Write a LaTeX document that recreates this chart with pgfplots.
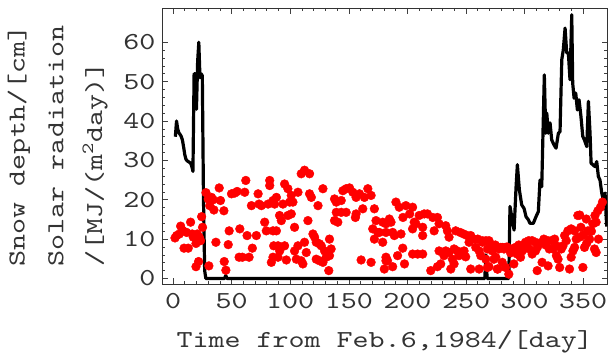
\documentclass[border=0pt]{standalone}
\usepackage{fontspec}
\usepackage{pgfplots}
\usepackage{pgfplotstable}
\pgfplotsset{compat=1.18}
\newfontfamily\cour[FakeStretch=1.25]{lmmono10-regular.otf}
\newcommand{\cf}{\cour\fontsize{24.5}{39}\selectfont}

\pgfplotstableread{
x y
2 36
3 40
4 38
5 37
6 36.6
7 36.1
8 35.2
9 33.5
10 31.5
11 30.3
12 29.9
13 29.7
14 29.5
15 29.3
16 28.5
17 27.2
18 52
19 52
20 43
21 55
22 60
23 51
24 52
25 51.5
26 20
27 2
28 0
44 0
45 0.8
46 0
266 0
267 6
268 0
286.5 0
287.5 18.3
289 15.7
291 12.3
292.7 23.3
293.8 28.9
295.5 22.5
297.5 18.7
299.5 17.8
301.2 15.7
303.2 14.9
304.6 14
307.4 14
309.7 15.7
311.7 17
313.1 25
314.6 23.3
316.8 51.7
318 36.9
318.9 42
320.2 36.9
321.7 39.5
323.1 35.2
325.1 33.9
326.8 33.1
328.8 36.9
330.2 37.3
331.7 55.6
333 58.1
334.5 63.6
335.9 57.3
337.3 57.3
338.7 50.5
340.2 67
341 49.6
342.2 45.8
343.6 47.1
345 42.8
346.4 45.4
347.9 41.6
349.6 36.1
351 35.2
353 33.5
354.4 45
355.8 36.9
356.7 29.3
358.1 28.9
360.1 28.4
361.5 29.7
362.9 25.9
364.3 25
365.8 21.7
367.1 20
368.6 21.7
370 13.2
}\snow

\pgfplotstableread{
x y
1.7 10.3
3.1 10.9
5.4 11.3
6.5 13.3
8.2 12.2
9.4 7.7
11.6 11.7
13.0 7.7
15.0 14.3
16.4 11.3
17.3 10.5
19.6 8.9
20.7 11.3
22.4 10.5
23.5 9.6
24.4 15.7
25.2 13.0
19.6 3.0
21.8 4.3
30.6 3.2
28.1 21.8
30 20.2
32.9 20.6
34.3 20
31.3 18.5
34.9 17.4
36.6 9.2
39.4 23
40.5 19.8
43.4 17.2
45.1 2.1
43.7 4.3
47.1 8.6
47.9 12.1
49.9 21.5
52.7 21.7
54.7 22.1
57.0 12.6
56.4 5.4
59.2 5.4
61.2 21.9
62.1 24.9
63.2 10.9
64.9 5.4
66.9 18.5
67.7 7.7
71.1 10.9
72.6 21.5
73.4 18.9
75.4 18.5
78.2 14.3
79.6 12.1
82.5 24.9
81.1 18.9
86.7 18.9
88.2 12.1
85.9 8.3
89.6 8.3
83.9 4.1
89.6 5.4
82.5 23.6
85.3 19.8
88.2 20.6
95.2 24
98.0 22.8
100.9 21.1
102.3 19.4
99.5 19.4
93.8 18.9
106.6 21.9
109.4 26.6
112.2 27.5
116.5 26.6
116.5 21.5
118 20.6
123.7 18.5
127.9 22.8
90.9 16
92.4 14.7
98 16
100.9 16.4
85.3 12.1
103.7 13
115.1 14.7
95.2 8.3
91 7
85.3 5.4
96.7 4.7
103.7 7
106.6 8.3
112.2 9.2
113.7 6.6
109.4 4.5
105.2 4.9
110.8 3.7
119.4 11.3
120.8 10.5
122.2 9.2
125 8.8
126.5 8.3
133.5 10
134.9 7.5
129.3 7
130.7 5.4
122.2 4.9
125 4.5
127.9 4.1
133.5 5.8
132.9 2
137.8 20.2
139.3 19.4
143.5 19.8
144.9 22.3
147.7 22.8
150.6 23
153.4 21.9
156.2 20.6
159.1 21.5
163.3 20.6
166.2 22.8
169 21.1
139.3 16.8
143.5 16.8
147.7 16.8
137.8 14.7
140.6 14.3
156.2 16.4
155.6 15.5
161.9 17.7
171.8 17.7
173.2 14.7
178.9 14.3
170.4 12.6
174.7 11.7
171.8 10
178.9 9.2
160.5 4.7
169 4.1
180.3 2.4
181.7 4.5
181.7 13.9
190.2 19.4
193 18.1
198.7 18.5
204.4 18.1
196.2 15.5
201.9 16.4
210 16
214.3 16.4
217.1 16.4
221.6 15.5
225.6 15.5
227 13.9
186 14.3
184.6 15.1
205.8 14.3
207.2 13.9
204.4 12.6
213 13
213 10.9
222.8 12.1
232.7 13.4
234.1 12.1
235.5 10.5
241.2 12.1
245 11.7
248 11.3
251 10.9
254 10.9
257 10
260 10
264 9.6
267 9.6
176 11.7
181.7 11.7
187.4 11.7
188.8 10.9
194.5 11.3
196 7.7
191.6 5.8
204.4 6.2
208.7 6.2
213 6.2
181.7 5.4
183 4.5
187.4 3
197.5 3.7
219.9 2
227 7
228.4 3.7
225.6 3
231.2 5.8
232.7 7
235.5 6.6
238.4 4.9
239.8 7.5
242.6 7
244 5.8
248.3 7
249.7 5.5
239.8 3.7
237 2.4
254 2.4
252.6 9.2
258.3 7.9
261.2 7
262.6 5.8
264 9.2
268.3 7.5
271.1 7.5
266.9 4.9
261.2 2.4
268.3 2.8
273.9 8.3
275.4 5.4
276.8 2.4
269.6 9.6
269.6 3
272.4 7
273.8 4.9
277 2.4
278 7.5
279.5 7.9
281 7.9
282.4 7.5
283.7 7.9
280.9 4.1
283.7 2.8
286.5 1.1
286.5 7.5
289.3 7.5
292.2 7.9
290.8 3.7
293.6 6.2
296.5 5.4
297.9 8.3
300.7 9.2
303.5 9.6
306.4 9.6
309.3 9.2
306.4 6.2
309.3 7
310.7 2
312.1 8.8
315 9.2
316.4 10
314.9 4.1
320 3.2
319.9 9.6
322.8 9.6
325.6 10
327.1 8.3
324.2 7.5
327.1 5.8
328.5 4.9
329.9 2.8
331.3 7.5
332.7 8.3
334.1 10.9
336.9 12.1
335.5 9.6
338.3 2.4
339.7 5.4
341.2 7
342.6 7.9
339.7 12.6
342.6 12.1
345.4 16
346.9 10.5
349.7 2.8
351.1 7.9
352.6 15.1
354 12.1
355.4 10
358.2 13.9
359.6 7.5
361 6.6
361 14.3
362.5 17.2
364.7 18.1
366.4 19.4
275 8.5
285 8
288 6.5
295 8.5
298 7
302 8
304 7.5
311 8
318 8.5
321 7.5
344 10
348 13
350 11
353 9
357 12
360 16
363 10
347 16.1
}\solar

\begin{document}
\begin{tikzpicture}
\begin{axis}[
  scale only axis,
  width=445.5bp, height=276bp,
  xmin=-9.4, xmax=370.7, ymin=-1.4, ymax=68.7,
  xtick={0,50,...,350}, ytick={0,10,...,60},
  minor x tick num=4, minor y tick num=4,
  tick align=inside,
  major tick length=6bp, minor tick length=3.5bp,
  tick style={black!75, line width=0.6bp},
  axis line style={black!80, line width=0.8bp},
  /pgf/number format/assume math mode=true,
  ticklabel style={font=\cf, text=black!80},
  xticklabel style={yshift=-6bp},
  yticklabel style={xshift=-3bp},
  xlabel={Time from Feb.6,1984/[day]},
  xlabel style={at={(axis description cs:0.5,0)}, anchor=base, yshift=-63bp, font=\cf, text=black!80},
  ylabel={Snow depth/[cm]\\Solar radiation\\/[MJ/(m\textsuperscript{2}day)]},
  ylabel style={at={([xshift=-54bp]axis description cs:0,0.5)}, anchor=south, rotate=0, align=left, inner sep=0pt, font=\cf, text=black!80},
]
\addplot[black, line width=3.2bp, line join=round, no marks] table[x=x,y=y] {\snow};
\addplot[only marks, mark=*, mark size=4.4bp, color=red, mark options={draw=red, fill=red}] table[x=x,y=y] {\solar};
\end{axis}
\pgfresetboundingbox
\path (-162bp,-75bp) rectangle (446bp,284bp);
\end{tikzpicture}
\end{document}
